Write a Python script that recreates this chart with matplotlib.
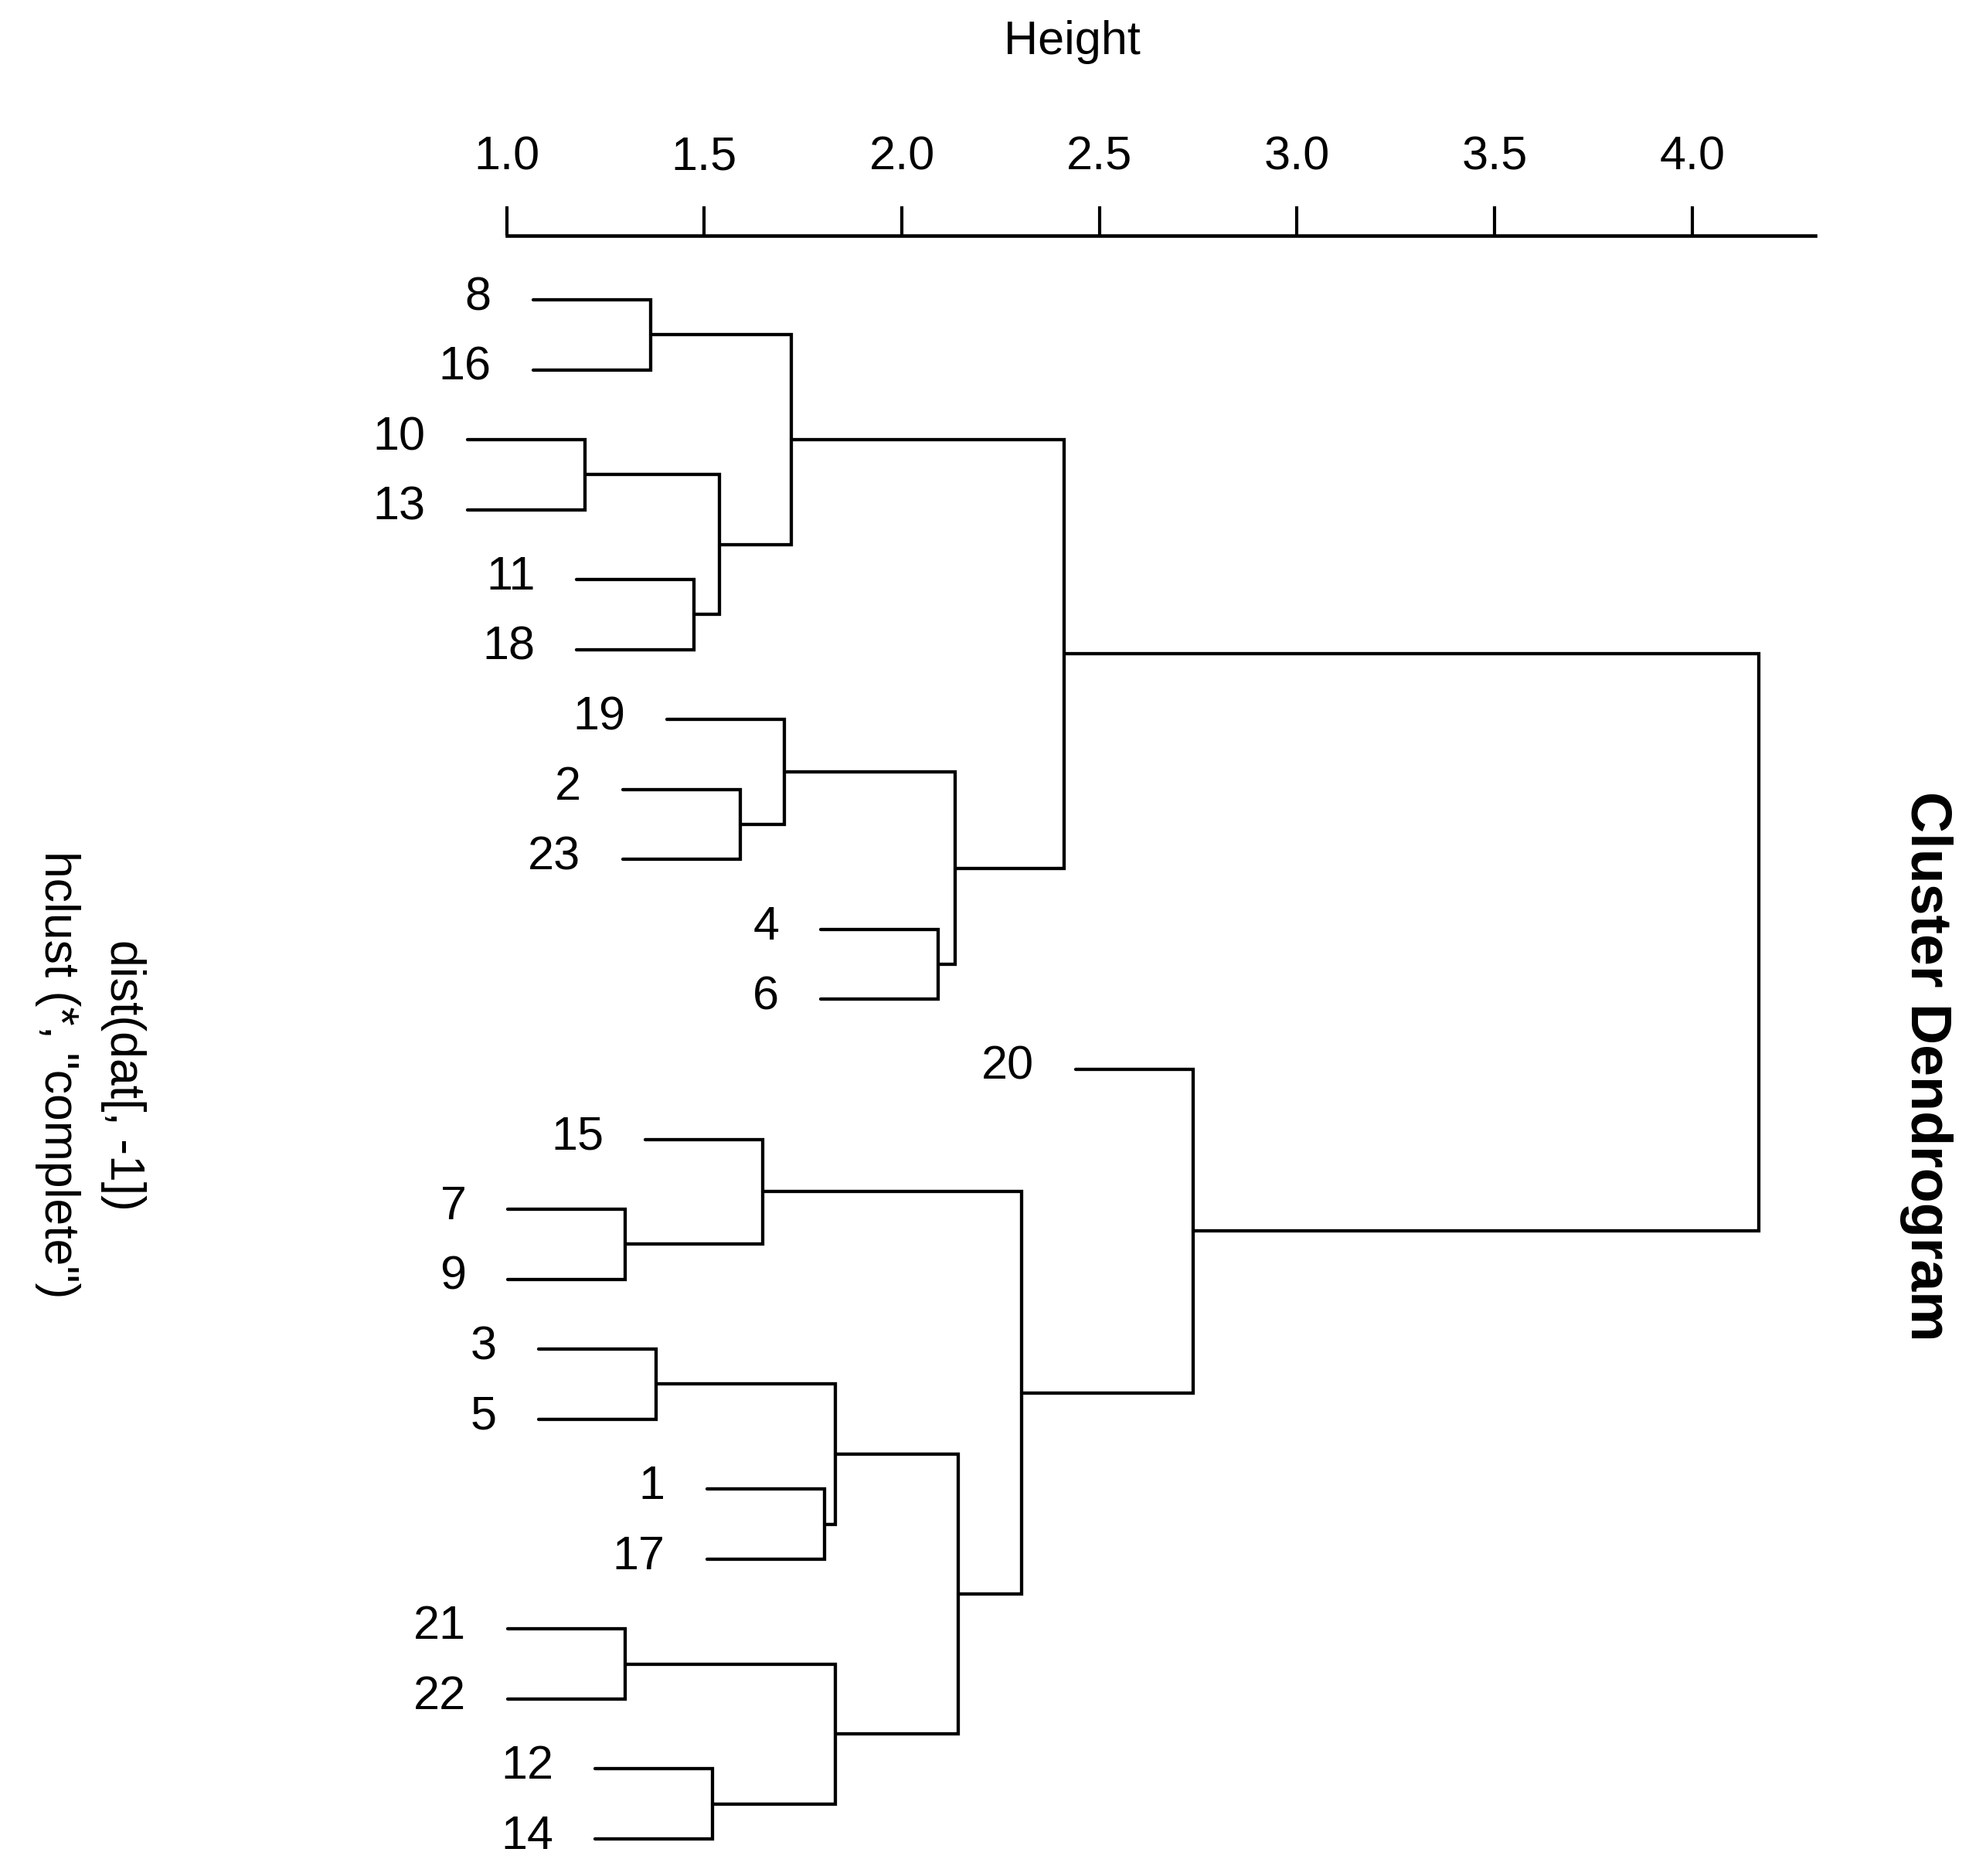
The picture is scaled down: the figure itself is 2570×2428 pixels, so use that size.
import matplotlib
matplotlib.use("Agg")
import matplotlib.pyplot as plt

plt.rcParams['font.family'] = ['Liberation Sans', 'DejaVu Sans']

# ---- data (R hclust style) ----
leaf_order = [8, 16, 10, 13, 11, 18, 19, 2, 23, 4, 6, 20, 15, 7, 9, 3, 5, 1, 17, 21, 22, 12, 14]
# negative = leaf label, positive = earlier merge step (1-based)
merge_left = [-10, -7, -21, -8, -3, -11, -12, 1, -2, -15, -19, 4, -1, 5, 3, -4, 11, 14, 10, 12, -20, 20]
merge_right = [-13, -9, -22, -16, -5, -18, -14, 6, -23, 2, 9, 8, -17, 13, 7, -6, 16, 15, 18, 17, 19, 21]
merge_height = [1.1975, 1.3008, 1.3008, 1.3637, 1.3772, 1.4748, 1.5210, 1.5387, 1.5904,
                1.6489, 1.7028, 1.7196, 1.8037, 1.8319, 1.8319, 2.0921, 2.1349, 2.1437,
                2.3031, 2.4099, 2.7380, 4.1695]
tick_values = [1.0, 1.5, 2.0, 2.5, 3.0, 3.5, 4.0]
tick_labels = ["1.0", "1.5", "2.0", "2.5", "3.0", "3.5", "4.0"]
hang_frac = 0.1

title = "Cluster Dendrogram"
sub_line1 = "dist(dat[, -1])"
sub_line2 = 'hclust (*, "complete")'
axis_label = "Height"

# ---- layout ----
W, H = 2570, 2428
fig = plt.figure(figsize=(W / 100, H / 100), dpi=100)

x0_px, unit_px = 655.6, 511.4
h_lo, h_hi = 1.0, 4.311
top_px, bottom_px = 305, 2400
leaf1_px, step_px = 388.0, 90.545

ax_left = x0_px / W
ax_right = (x0_px + (h_hi - h_lo) * unit_px) / W
ax = fig.add_axes([ax_left, 1 - bottom_px / H, ax_right - ax_left, (bottom_px - top_px) / H])
ax.set_xlim(h_lo, h_hi)
y_top = 1 + (top_px - leaf1_px) / step_px
y_bot = 1 + (bottom_px - leaf1_px) / step_px
ax.set_ylim(y_bot, y_top)

for s in ['bottom', 'left', 'right']:
    ax.spines[s].set_visible(False)
ax.spines['top'].set_linewidth(3.3)
ax.xaxis.tick_top()
ax.set_xticks(tick_values)
ax.set_xticklabels(tick_labels)
ax.tick_params(axis='x', length=27.5, width=3.0, pad=25, labelsize=44, direction='out')
ax.set_yticks([])
ax.patch.set_alpha(0)

# ---- dendrogram ----
hang = hang_frac * (max(merge_height) - min(merge_height))
pos_of_leaf = {lab: i + 1 for i, lab in enumerate(leaf_order)}
node_pos = {}

def child_pos(c):
    return pos_of_leaf[-c] if c < 0 else node_pos[c]

lw = 3.1
for k, (a, b, h) in enumerate(zip(merge_left, merge_right, merge_height), start=1):
    ya, yb = child_pos(a), child_pos(b)
    ha_ = h - hang if a < 0 else merge_height[a - 1]
    hb_ = h - hang if b < 0 else merge_height[b - 1]
    ax.plot([ha_, h, h, hb_], [ya, ya, yb, yb], color='black', lw=lw,
            solid_capstyle='round', solid_joinstyle='miter', clip_on=False)
    node_pos[k] = (ya + yb) / 2
    for c, hc in ((a, ha_), (b, hb_)):
        if c < 0:
            ax.annotate(str(-c), xy=(hc, child_pos(c)), xytext=(-38.9, 1.8),
                        textcoords='offset points', ha='right', va='center',
                        fontsize=44, annotation_clip=False)

# ---- texts ----
fig.text(1387 / W, 1 - 70 / H, axis_label, ha='center', va='baseline', fontsize=44)
fig.text(2493 / W, 1 - 1380 / H, title, rotation=-90, ha='center', va='center',
         fontsize=53, fontweight='bold')
fig.text(159 / W, 1 - 1391 / H, sub_line1, rotation=-90, ha='center', va='center', fontsize=45)
fig.text(74 / W, 1 - 1391 / H, sub_line2, rotation=-90, ha='center', va='center', fontsize=45)

fig.savefig("out.png", dpi=100, facecolor='white')
